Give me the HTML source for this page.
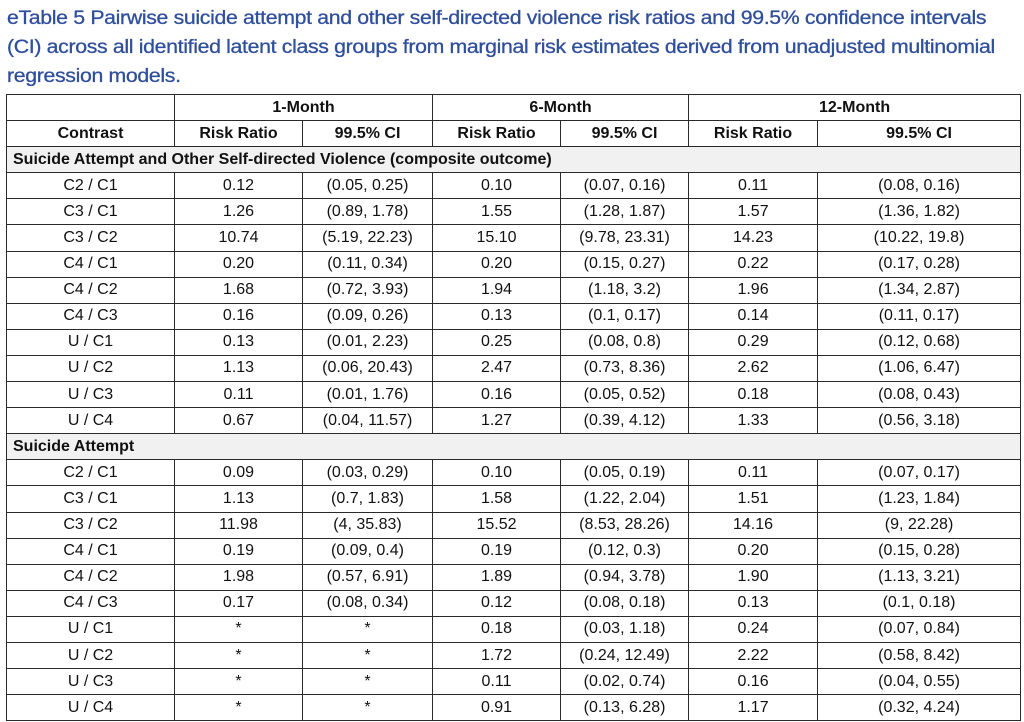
<!DOCTYPE html>
<html><head><meta charset="utf-8"><style>
body{margin:0;width:1024px;height:722px;background:#fff;overflow:hidden;font-family:"Liberation Sans",sans-serif;}
.t{position:absolute;left:7px;top:4px;color:#2f4f9c;font-size:19.5px;line-height:29px;white-space:nowrap;letter-spacing:-0.3px;transform:scaleX(1.09);transform-origin:0 0;-webkit-text-stroke:0.3px #2f4f9c}
table{position:absolute;left:6px;top:94px;border-collapse:collapse;table-layout:fixed;width:1014px}
td{border:1.5px solid #2a2a2a;height:25.1px;padding:0;text-align:center;font-size:16px;color:#111;white-space:nowrap;overflow:hidden}
.h td{font-weight:bold}
.s td{background:#f1f1f1;text-align:left;font-weight:bold;padding-left:6px}
</style></head><body>
<div class="t">eTable 5 Pairwise suicide attempt and other self-directed violence risk ratios and 99.5% confidence intervals<br>(CI) across all identified latent class groups from marginal risk estimates derived from unadjusted multinomial<br>regression models.</div>
<table>
<colgroup><col style="width:168px"><col style="width:128px"><col style="width:130px"><col style="width:128px"><col style="width:128px"><col style="width:129px"><col style="width:203px"></colgroup>
<tr class="h"><td></td><td colspan="2">1-Month</td><td colspan="2">6-Month</td><td colspan="2">12-Month</td></tr>
<tr class="h"><td>Contrast</td><td>Risk Ratio</td><td>99.5% CI</td><td>Risk Ratio</td><td>99.5% CI</td><td>Risk Ratio</td><td>99.5% CI</td></tr>
<tr class="s"><td colspan="7">Suicide Attempt and Other Self-directed Violence (composite outcome)</td></tr>
<tr><td>C2 / C1</td><td>0.12</td><td>(0.05, 0.25)</td><td>0.10</td><td>(0.07, 0.16)</td><td>0.11</td><td>(0.08, 0.16)</td></tr>
<tr><td>C3 / C1</td><td>1.26</td><td>(0.89, 1.78)</td><td>1.55</td><td>(1.28, 1.87)</td><td>1.57</td><td>(1.36, 1.82)</td></tr>
<tr><td>C3 / C2</td><td>10.74</td><td>(5.19, 22.23)</td><td>15.10</td><td>(9.78, 23.31)</td><td>14.23</td><td>(10.22, 19.8)</td></tr>
<tr><td>C4 / C1</td><td>0.20</td><td>(0.11, 0.34)</td><td>0.20</td><td>(0.15, 0.27)</td><td>0.22</td><td>(0.17, 0.28)</td></tr>
<tr><td>C4 / C2</td><td>1.68</td><td>(0.72, 3.93)</td><td>1.94</td><td>(1.18, 3.2)</td><td>1.96</td><td>(1.34, 2.87)</td></tr>
<tr><td>C4 / C3</td><td>0.16</td><td>(0.09, 0.26)</td><td>0.13</td><td>(0.1, 0.17)</td><td>0.14</td><td>(0.11, 0.17)</td></tr>
<tr><td>U / C1</td><td>0.13</td><td>(0.01, 2.23)</td><td>0.25</td><td>(0.08, 0.8)</td><td>0.29</td><td>(0.12, 0.68)</td></tr>
<tr><td>U / C2</td><td>1.13</td><td>(0.06, 20.43)</td><td>2.47</td><td>(0.73, 8.36)</td><td>2.62</td><td>(1.06, 6.47)</td></tr>
<tr><td>U / C3</td><td>0.11</td><td>(0.01, 1.76)</td><td>0.16</td><td>(0.05, 0.52)</td><td>0.18</td><td>(0.08, 0.43)</td></tr>
<tr><td>U / C4</td><td>0.67</td><td>(0.04, 11.57)</td><td>1.27</td><td>(0.39, 4.12)</td><td>1.33</td><td>(0.56, 3.18)</td></tr>
<tr class="s"><td colspan="7">Suicide Attempt</td></tr>
<tr><td>C2 / C1</td><td>0.09</td><td>(0.03, 0.29)</td><td>0.10</td><td>(0.05, 0.19)</td><td>0.11</td><td>(0.07, 0.17)</td></tr>
<tr><td>C3 / C1</td><td>1.13</td><td>(0.7, 1.83)</td><td>1.58</td><td>(1.22, 2.04)</td><td>1.51</td><td>(1.23, 1.84)</td></tr>
<tr><td>C3 / C2</td><td>11.98</td><td>(4, 35.83)</td><td>15.52</td><td>(8.53, 28.26)</td><td>14.16</td><td>(9, 22.28)</td></tr>
<tr><td>C4 / C1</td><td>0.19</td><td>(0.09, 0.4)</td><td>0.19</td><td>(0.12, 0.3)</td><td>0.20</td><td>(0.15, 0.28)</td></tr>
<tr><td>C4 / C2</td><td>1.98</td><td>(0.57, 6.91)</td><td>1.89</td><td>(0.94, 3.78)</td><td>1.90</td><td>(1.13, 3.21)</td></tr>
<tr><td>C4 / C3</td><td>0.17</td><td>(0.08, 0.34)</td><td>0.12</td><td>(0.08, 0.18)</td><td>0.13</td><td>(0.1, 0.18)</td></tr>
<tr><td>U / C1</td><td>*</td><td>*</td><td>0.18</td><td>(0.03, 1.18)</td><td>0.24</td><td>(0.07, 0.84)</td></tr>
<tr><td>U / C2</td><td>*</td><td>*</td><td>1.72</td><td>(0.24, 12.49)</td><td>2.22</td><td>(0.58, 8.42)</td></tr>
<tr><td>U / C3</td><td>*</td><td>*</td><td>0.11</td><td>(0.02, 0.74)</td><td>0.16</td><td>(0.04, 0.55)</td></tr>
<tr><td>U / C4</td><td>*</td><td>*</td><td>0.91</td><td>(0.13, 6.28)</td><td>1.17</td><td>(0.32, 4.24)</td></tr>
</table>
</body></html>
